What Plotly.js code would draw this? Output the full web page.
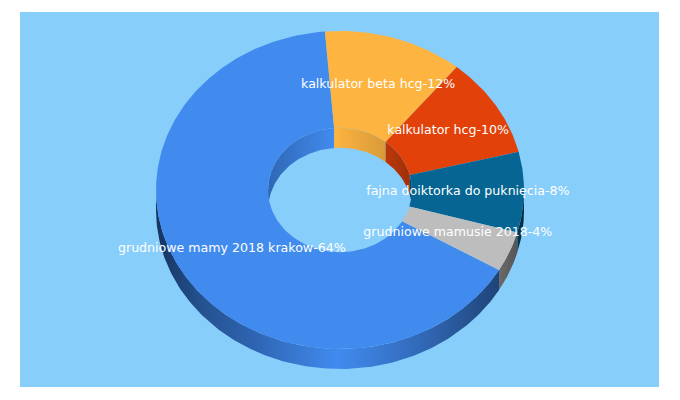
<!DOCTYPE html>
<html>
<head>
<meta charset="utf-8">
<script src="https://cdn.plot.ly/plotly-3.0.1.min.js"></script>
<style>html,body{margin:0;padding:0;background:#fff}#chart{width:680px;height:400px}</style>
</head>
<body>
<div id="chart"></div>
<script>
// --- data ---
const categories = ["grudniowe mamy 2018 krakow", "kalkulator beta hcg", "kalkulator hcg", "fajna doiktorka do pukni\u0119cia", "grudniowe mamusie 2018"];
const values = [64, 12, 10, 8, 4];
const colors = ["#418bef", "#fdb441", "#e2420a", "#066593", "#bdbdbd"];

// --- appearance ---
const panel = "#87cefb";
const firstSliceStart = 120.2;                 // degrees clockwise from 12 o'clock
const geo = {cx: 340, cy: 190, rx: 184, ry: 159, hole: 0.391, depth: 20, labelR: 0.695};
const outerWall = [
  [["#16345f", 0], ["#24518f", 0.13], ["#2d62ae", 0.27], ["#418bef", 0.53], ["#3269b8", 0.77], ["#1f4478", 1]],
  null, null,
  [["#023a55", 0], ["#00263a", 1]],
  [["#6a6a6a", 0], ["#555555", 1]]
];
const innerWall = [
  [["#2f67b4", 0], ["#418bef", 1]],
  [["#fdb441", 0], ["#d99a3a", 1]],
  [["#ba380b", 0], ["#a03008", 1]],
  [["#044a6c", 0], ["#044a6c", 1]],
  null
];

const total = values.reduce((a, b) => a + b, 0);
const rad = d => d * Math.PI / 180;
const pt = (a, f, dz) => [geo.cx + f * geo.rx * Math.sin(rad(a)), geo.cy - f * geo.ry * Math.cos(rad(a)) + dz];
function arc(a0, a1, f, dz) {
  const n = Math.max(2, Math.ceil(Math.abs(a1 - a0)));
  const out = [];
  for (let i = 0; i <= n; i++) out.push(pt(a0 + (a1 - a0) * i / n, f, dz));
  return out;
}
const traces = [];
function poly(points, style) {
  traces.push(Object.assign({
    type: "scatter", mode: "lines", x: points.map(p => p[0]), y: points.map(p => p[1]),
    fill: "toself", line: {width: 0}, hoverinfo: "skip", showlegend: false
  }, style));
}
function grad(stops) {
  return {type: "horizontal", colorscale: stops.map(s => [s[1], s[0]])};
}
// slice spans
const spans = [];
let start = firstSliceStart;
values.forEach(v => { const sw = v / total * 360; spans.push([start, start + sw]); start += sw; });

// outer walls (front half of the ring: 90..270 degrees)
spans.forEach((s, i) => {
  if (!outerWall[i]) return;
  [0, -360].forEach(shift => {
    const a0 = Math.max(s[0] + shift, 90), a1 = Math.min(s[1] + shift, 270);
    if (a1 <= a0) return;
    poly(arc(a0, a1, 1, 0).concat(arc(a1, a0, 1, geo.depth)), {fillgradient: grad(outerWall[i]), fillcolor: colors[i]});
  });
});
// inner walls (back half of the hole: -90..90 degrees)
spans.forEach((s, i) => {
  if (!innerWall[i]) return;
  [0, -360].forEach(shift => {
    const a0 = Math.max(s[0] + shift, -90), a1 = Math.min(s[1] + shift, 90);
    if (a1 <= a0) return;
    poly(arc(a0, a1, geo.hole, 0).concat(arc(a1, a0, geo.hole, geo.depth)), {fillgradient: grad(innerWall[i]), fillcolor: colors[i]});
  });
});
// top faces
spans.forEach((s, i) => {
  poly(arc(s[0], s[1], 1, 0).concat(arc(s[1], s[0], geo.hole, 0)), {fillcolor: colors[i]});
});
// labels
const lab = spans.map(s => pt((s[0] + s[1]) / 2, geo.labelR, 0));
traces.push({
  type: "scatter", mode: "text", x: lab.map(p => p[0]), y: lab.map(p => p[1]),
  text: categories.map((c, i) => c + "-" + values[i] + "%"), textposition: "middle center",
  textfont: {family: "DejaVu Sans, Verdana, sans-serif", size: 12.6, color: "#ffffff"},
  hoverinfo: "skip", showlegend: false, cliponaxis: false
});

const hidden = {visible: false, fixedrange: true};
Plotly.newPlot("chart", traces, {
  width: 680, height: 400,
  margin: {l: 20, r: 21, t: 12, b: 13, pad: 0},
  paper_bgcolor: "#ffffff", plot_bgcolor: panel,
  xaxis: Object.assign({range: [20, 659]}, hidden),
  yaxis: Object.assign({range: [387, 12]}, hidden),
  showlegend: false, hovermode: false
}, {displayModeBar: false, staticPlot: true});
</script>
</body>
</html>
